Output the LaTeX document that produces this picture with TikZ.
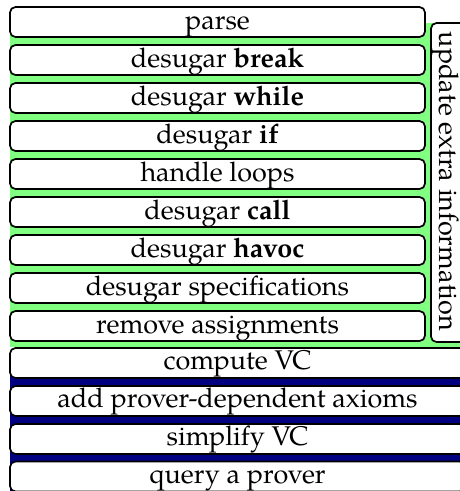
\documentclass[tikz,border=0pt]{standalone}
\usepackage{fontspec}
\setmainfont{TeX Gyre Pagella}
\begin{document}
\begin{tikzpicture}[
  stagebox/.style={draw=black, line width=1.7pt, rounded corners=5.5pt, fill=white, inner sep=0pt},
  topbox/.style={stagebox, minimum width=415pt, minimum height=30pt},
  botbox/.style={stagebox, minimum width=455pt, minimum height=30pt},
  lbl/.style={anchor=base, inner sep=0pt, font=\fontsize{27}{30}\selectfont}
]
\useasboundingbox (0,0) rectangle (460pt,-491pt);
\clip (0,0) rectangle (460pt,-491pt);
% backgrounds
\fill[green!50] (10pt,-23pt) rectangle (480pt,-347pt);
\fill[blue!50!black] (10pt,-363pt) rectangle (480pt,-495pt);
% vertical box
\node[stagebox, minimum width=44pt, minimum height=319pt] (vb) at (453pt,-182.5pt) {};
\node[lbl, rotate=-90] (vt) at (439pt,-181.5pt) {update extra information};
% top group
\foreach \i/\t in {0/{parse},1/{desugar \textbf{break}},2/{desugar \textbf{while}},3/{desugar \textbf{if}},4/{handle loops},5/{desugar \textbf{call}},6/{desugar \textbf{havoc}},7/{desugar specifications},8/{remove assignments}}{
  \node[topbox] (b\i) at (217.5pt,{-22pt-38pt*\i}) {};
  \node[lbl] (t\i) at (217.5pt,{-29pt-38pt*\i}) {\t};
}
% bottom group
\foreach \i/\y/\t in {0/348/{compute VC},1/386/{add prover-dependent axioms},2/424/{simplify VC},3/461.5/{query a prover}}{
  \node[botbox] (c\i) at (237.5pt,{-(\y pt+15pt)}) {};
  \node[lbl] (u\i) at (237.5pt,{-(\y pt+21.5pt)}) {\t};
}
\end{tikzpicture}
\end{document}
